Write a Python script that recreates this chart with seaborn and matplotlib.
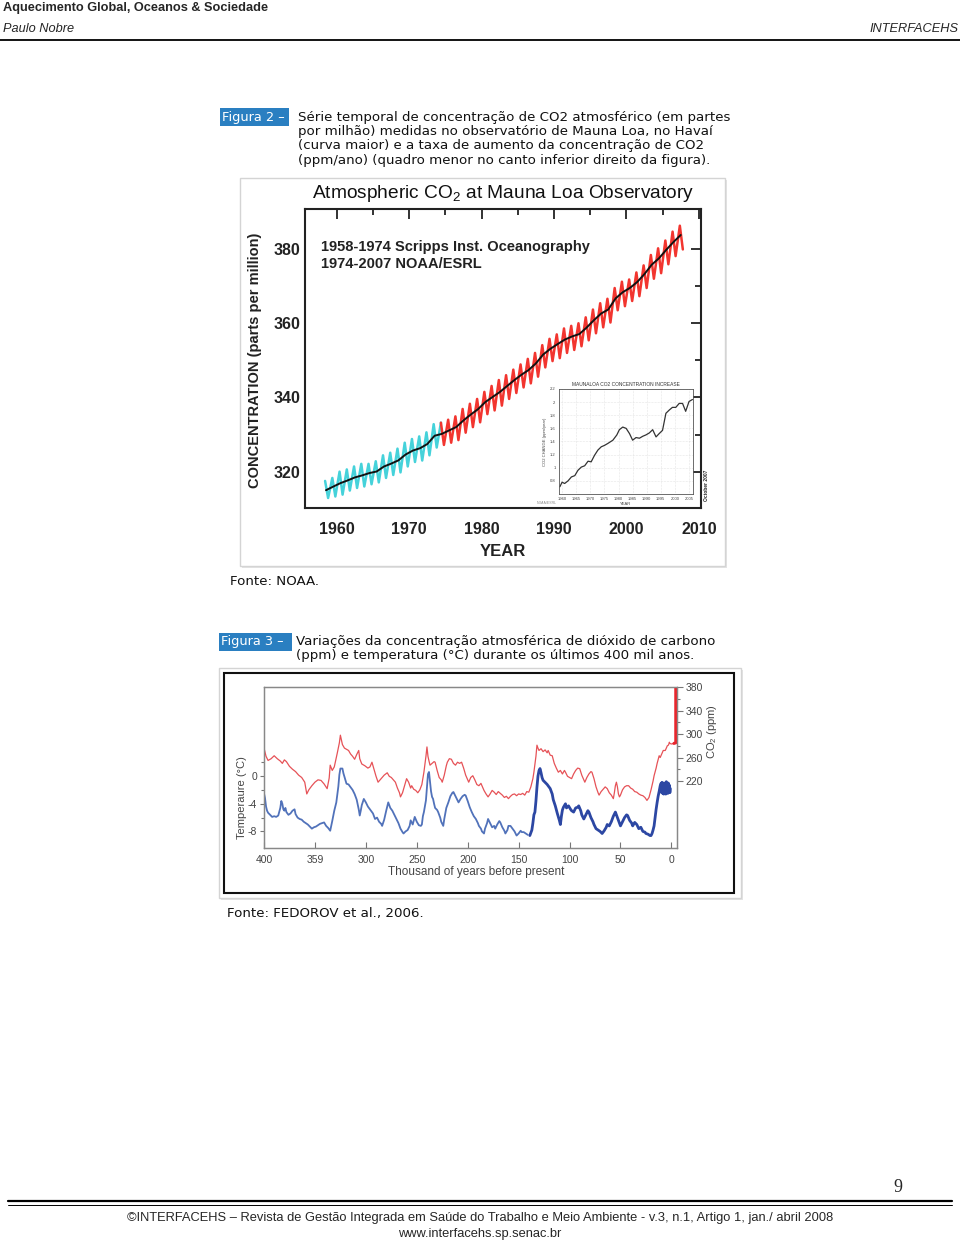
import numpy as np
import pandas as pd
import matplotlib
matplotlib.use('Agg')
import matplotlib.pyplot as plt
import seaborn as sns
from matplotlib.patches import Rectangle
from matplotlib.lines import Line2D

# ---------------- data: Figura 2 (Mauna Loa) ----------------
years = list(range(1958, 2008))
co2_peak = [317.5, 318.3, 320.0, 320.6, 321.4, 322.1, 322.1, 322.8, 324.4, 325.1,
            326.2, 327.8, 328.8, 329.5, 330.6, 332.8, 333.2, 334.0, 334.9, 336.9,
            338.3, 339.6, 341.5, 343.1, 344.7, 346.0, 347.5, 348.9, 350.4, 352.0,
            354.1, 355.8, 357.0, 358.6, 359.3, 360.0, 361.6, 363.7, 365.4, 366.6,
            369.5, 371.2, 371.8, 373.7, 375.6, 378.4, 380.2, 382.3, 384.7, 386.3]
co2_trough = [312.9, 313.3, 313.8, 314.9, 315.6, 316.0, 316.6, 317.1, 318.3, 319.1,
              319.8, 321.4, 322.6, 323.0, 324.4, 326.5, 327.2, 327.8, 328.5, 330.5,
              332.0, 333.3, 335.5, 336.5, 337.8, 339.6, 341.2, 342.7, 343.8, 345.6,
              348.1, 349.8, 350.6, 352.0, 352.8, 353.8, 355.4, 357.3, 358.9, 360.2,
              363.5, 364.6, 366.0, 367.3, 369.5, 372.0, 373.5, 375.9, 378.1, 379.9]
peak_month = 5
trough_month = 10
co2_annual = [315.0, 315.97, 316.91, 317.64, 318.45, 318.99, 319.62, 320.04, 321.38, 322.16,
              323.04, 324.62, 325.68, 326.32, 327.45, 329.68, 330.18, 331.11, 332.04, 333.83,
              335.40, 336.84, 338.75, 340.11, 341.45, 343.05, 344.65, 346.12, 347.42, 349.19,
              351.57, 353.12, 354.39, 355.61, 356.45, 357.10, 358.83, 360.82, 362.61, 363.73,
              366.70, 368.38, 369.55, 371.14, 373.28, 375.80, 377.52, 379.80, 381.90, 383.79]
scripps_end = 1974

# inset: growth rate
inset_year = [1959.2, 1960.0, 1960.9, 1962.1, 1963.3, 1964.5, 1965.6, 1966.8, 1968.0, 1969.2,
              1970.3, 1971.5, 1972.7, 1973.9, 1975.0, 1976.2, 1978.0, 1979.4, 1980.3, 1981.5,
              1982.7, 1983.9, 1985.0, 1986.2, 1987.4, 1988.6, 1989.7, 1990.9, 1992.1, 1993.3,
              1994.4, 1995.6, 1996.8, 1998.0, 1999.1, 2000.3, 2001.5, 2002.7, 2003.8, 2005.0,
              2006.2]
inset_rate = [0.71, 0.78, 0.76, 0.80, 0.86, 0.88, 0.96, 1.01, 1.03, 1.10,
              1.09, 1.19, 1.27, 1.32, 1.34, 1.37, 1.42, 1.50, 1.58, 1.62,
              1.60, 1.52, 1.42, 1.46, 1.45, 1.48, 1.50, 1.53, 1.58, 1.47,
              1.52, 1.57, 1.83, 1.88, 1.92, 1.92, 1.98, 1.98, 1.86, 2.01,
              2.04]

# ---------------- data: Figura 3 (400 kyr) ----------------
co2_kyr = [400, 398, 396, 393, 390, 387, 384, 382, 380, 378, 375, 372, 369, 366, 363, 360,
           358, 356, 353, 350, 347, 344, 341, 338, 336, 335, 333, 331, 328, 326, 325, 323,
           321, 319, 317, 315, 313, 311, 309, 307, 306, 304, 301, 298, 296, 294, 292, 290,
           288, 285, 282, 279, 277, 275, 273, 271, 269, 267, 266, 264, 262, 260, 258, 256,
           255, 253, 251, 249, 247, 245, 244, 243, 241, 240, 239, 238, 237, 235, 233, 232,
           230, 228, 226, 225, 223, 221, 220, 218, 216, 214, 212, 210, 208, 206, 204, 202,
           200, 199, 197, 195, 193, 191, 189, 187, 186, 184, 182, 180, 178, 176, 174, 172,
           170, 168, 166, 164, 162, 160, 158, 156, 154, 152, 150, 148, 146, 144, 142, 140,
           138, 136, 135, 133, 132, 131, 130, 128, 126, 124, 122, 121, 119, 117, 115, 113,
           111, 109, 107, 105, 104, 102, 100, 98, 96, 94, 92, 90, 88, 86, 85, 83,
           81, 79, 78, 76, 74, 72, 71, 69, 67, 65, 63, 61, 59, 57, 56, 55,
           54, 53, 52, 51, 50, 48, 46, 44, 42, 40, 38, 36, 34, 32, 30, 28,
           26, 24, 22, 20, 18, 17, 15, 14, 12, 11, 9, 8, 6, 5, 4, 3,
           2.5, 2, 1.5, 0, -2.5]
co2_ppm = [276, 262, 255, 258, 263, 258, 254, 250, 256, 253, 245, 240, 236, 230, 226, 218,
           198, 205, 212, 218, 222, 221, 215, 207, 225, 247, 238, 244, 268, 285, 298, 282,
           276, 274, 272, 266, 262, 257, 265, 272, 258, 249, 246, 242, 244, 252, 240, 228,
           218, 224, 230, 234, 228, 226, 222, 218, 208, 200, 193, 200, 212, 224, 218, 208,
           212, 206, 204, 200, 205, 214, 224, 235, 262, 278, 262, 254, 247, 250, 253, 252,
           238, 226, 222, 218, 230, 246, 252, 258, 257, 250, 247, 252, 250, 252, 242, 230,
           222, 218, 226, 229, 222, 214, 212, 216, 212, 204, 198, 193, 198, 204, 201, 197,
           202, 199, 196, 192, 194, 190, 194, 197, 198, 195, 198, 197, 199, 196, 202, 201,
           210, 224, 235, 262, 281, 276, 272, 275, 270, 273, 268, 272, 264, 263, 250, 242,
           235, 238, 232, 238, 235, 228, 226, 224, 232, 238, 242, 241, 230, 222, 218, 226,
           232, 236, 235, 224, 210, 200, 196, 202, 206, 210, 207, 200, 196, 190, 200, 212,
           218, 210, 198, 193, 196, 205, 210, 212, 212, 208, 206, 202, 201, 198, 196, 195,
           192, 187, 192, 205, 220, 229, 242, 250, 263, 260, 268, 272, 272, 276, 280, 281,
           283, 286, 284, 283, 284]
# industrial era (instrumental) jump at the right edge
co2_recent_kyr = [-2.5, -4.3, -4.3]
co2_recent_ppm = [284, 285, 380]

temp_kyr = [400, 399, 398, 397, 396, 394, 392, 390, 388, 386, 384, 383, 382, 381, 380, 379,
            378, 376, 374, 372, 370, 369, 367, 365, 363, 361, 359, 357, 355, 353, 351, 349,
            347, 345, 343, 341, 339, 337, 335, 333, 331, 329, 327, 326, 325, 323, 322, 320,
            319, 317, 315, 313, 311, 309, 307, 306, 305, 304, 302, 300, 298, 297, 295, 293,
            291, 289, 287, 285, 284, 282, 280, 278, 276, 274, 272, 270, 268, 266, 264, 263,
            261, 259, 257, 256, 254, 252, 250, 248, 246, 245, 244, 243, 241, 240, 239, 238,
            237, 236, 235, 234, 233, 232, 230, 229, 227, 226, 224, 223, 221, 219, 217, 215,
            214, 212, 210, 209, 207, 205, 203, 202, 200, 198, 196, 194, 192, 190, 189, 187,
            186, 184, 183, 181, 180, 178, 176, 174, 173, 171, 169, 168, 166, 164, 163, 161,
            160, 158, 156, 154, 152, 150, 148, 147, 145, 143, 141, 139, 137, 136, 135, 134,
            133, 132, 131, 130, 129, 128, 127, 126, 124, 122, 121, 119, 117, 116, 114, 112,
            110, 109, 108, 107, 106, 104, 103, 101, 99, 98, 96, 94, 92, 91, 89, 88,
            86, 84, 82, 81, 79, 77, 76, 74, 72, 70, 68, 66, 64, 63, 61, 59,
            57, 55, 54, 52, 50, 48, 46, 44, 43, 41, 39, 38, 36, 34, 32, 30,
            28, 26, 25, 23, 21, 20, 19, 18, 17, 16, 15, 14, 13, 12, 11, 10,
            9.5, 9, 8.5, 8, 7.5, 7, 6.5, 6, 5.5, 5, 4.5, 4, 3.5, 3, 2.5, 2, 1.5, 1]
temp_c = [-2.5, -3.2, -4.4, -5.0, -5.3, -5.6, -5.9, -5.8, -5.9, -5.7, -4.6, -3.6, -4.0, -4.8, -5.0, -4.6,
          -5.2, -5.6, -5.4, -5.0, -4.8, -5.5, -6.0, -6.2, -6.3, -6.6, -6.8, -7.0, -7.3, -7.6, -7.4, -7.3,
          -7.1, -6.9, -6.8, -6.7, -7.2, -7.5, -7.9, -6.5, -5.0, -3.8, -1.5, 0.2, 1.1, 1.1, 0.4, -0.6,
          -1.1, -1.2, -1.6, -2.0, -2.6, -3.4, -4.8, -5.7, -5.0, -4.2, -3.3, -3.8, -4.4, -4.6, -5.0, -5.4,
          -6.2, -6.0, -6.6, -6.9, -7.2, -6.3, -5.0, -3.8, -4.6, -5.0, -5.6, -6.2, -6.8, -7.6, -8.1, -8.3,
          -8.0, -7.8, -7.2, -6.4, -7.0, -5.9, -6.6, -7.1, -7.2, -7.0, -5.8, -5.2, -3.5, -1.5, 0.3, 0.6,
          -0.8, -2.2, -3.0, -3.3, -4.0, -4.6, -4.9, -5.2, -6.0, -6.6, -7.2, -6.2, -4.6, -3.8, -2.9, -2.4,
          -2.3, -2.9, -3.5, -3.8, -3.3, -2.9, -2.7, -2.8, -3.6, -4.5, -5.2, -5.8, -6.2, -6.8, -7.2, -7.6,
          -8.0, -8.3, -7.6, -6.8, -6.2, -6.8, -7.4, -7.2, -7.6, -7.0, -6.5, -6.7, -7.4, -7.9, -8.3, -7.8,
          -7.2, -7.2, -7.6, -8.0, -8.6, -8.3, -7.9, -8.1, -8.1, -8.3, -8.5, -8.6, -7.8, -6.8, -5.6, -5.2,
          -3.6, -1.6, 0.0, 0.8, 1.1, 0.5, -0.2, -0.6, -0.9, -1.2, -1.4, -1.8, -2.6, -3.4, -4.3, -5.4,
          -6.4, -7.0, -5.8, -4.9, -4.5, -4.0, -4.6, -4.3, -4.8, -5.0, -5.2, -4.6, -4.5, -4.3, -5.0, -5.6,
          -6.2, -5.6, -5.0, -5.2, -6.0, -6.6, -7.0, -7.6, -7.8, -8.0, -8.3, -7.9, -7.4, -7.0, -7.2, -6.6,
          -5.8, -5.2, -5.6, -6.4, -7.2, -6.6, -6.0, -5.6, -5.7, -6.4, -6.8, -7.2, -6.7, -7.0, -7.6, -7.4,
          -8.0, -8.1, -8.3, -8.4, -8.6, -8.6, -8.3, -7.8, -7.2, -6.0, -4.8, -3.8, -2.9, -2.2, -1.4, -1.0,
          -2.4, -0.9, -2.5, -1.1, -2.6, -1.0, -2.3, -1.2, -2.6, -0.8, -2.4, -1.1, -2.5, -1.0, -2.2, -1.3,
          -2.4, -1.8]

kyr_ticks = [400, 350, 300, 250, 200, 150, 100, 50, 0]
kyr_labels = ['400', '359', '300', '250', '200', '150', '100', '50', '0']
temp_ticks = [0, -4, -8]
co2_ticks = [220, 260, 300, 340, 380]

# ---------------- texts ----------------
caption2 = ['Série temporal de concentração de CO2 atmosférico (em partes',
            'por milhão) medidas no observatório de Mauna Loa, no Havaí',
            '(curva maior) e a taxa de aumento da concentração de CO2',
            '(ppm/ano) (quadro menor no canto inferior direito da figura).']
caption3 = ['Variações da concentração atmosférica de dióxido de carbono',
            '(ppm) e temperatura (°C) durante os últimos 400 mil anos.']

sns.set_theme(style='white')
plt.rcParams['font.family'] = ['Liberation Sans', 'DejaVu Sans']
plt.rcParams['mathtext.default'] = 'regular'
plt.rcParams['axes.unicode_minus'] = False

W, H = 960, 1242
fig = plt.figure(figsize=(9.6, 12.42), dpi=100)


def box(x0, y0, x1, y1):
    return [x0 / W, 1 - y1 / H, (x1 - x0) / W, (y1 - y0) / H]


def ftxt(x, y, s, **kw):
    kw.setdefault('va', 'center')
    return fig.text(x / W, 1 - y / H, s, **kw)


def hline(x0, x1, y, **kw):
    fig.add_artist(Line2D([x0 / W, x1 / W], [1 - y / H] * 2, transform=fig.transFigure, **kw))


def rect(x0, y0, x1, y1, z=-5, **kw):
    fig.add_artist(Rectangle((x0 / W, 1 - y1 / H), (x1 - x0) / W, (y1 - y0) / H,
                             transform=fig.transFigure, zorder=z, **kw))


# header
ftxt(3, 7.5, 'Aquecimento Global, Oceanos & Sociedade', fontsize=9.2, weight='bold')
ftxt(3, 29.5, 'Paulo Nobre', fontsize=9.2, style='italic')
ftxt(958, 29.5, 'INTERFACEHS', fontsize=9.2, style='italic', ha='right')
hline(0, 960, 40, color='black', lw=1.3)

# ---------------- Figura 2 ----------------
cap_font = ['DejaVu Sans']
rect(220, 108, 289, 126, facecolor='#2a7fc1', edgecolor='none')
ftxt(222, 117, 'Figura 2 –', fontsize=9.3, color='white', family=cap_font)
for i, line in enumerate(caption2):
    ftxt(298, 117 + i * 14.5, line, fontsize=9.6, family=cap_font, color='#111')

rect(242, 180, 727, 568, z=-6, facecolor='#e4e4e4', edgecolor='none')
rect(240, 178, 725, 566, facecolor='white', edgecolor='#d4d4d4', lw=1)

narrow = ['Liberation Sans', 'DejaVu Sans']
ftxt(503, 193, 'Atmospheric CO$_2$ at Mauna Loa Observatory', fontsize=13.8, ha='center',
     family=narrow, color='#111')

ax1 = fig.add_axes(box(305, 209, 701, 508))
# build seasonal zigzag table
rows = []
for y, pk, tr in zip(years, co2_peak, co2_trough):
    src = 'scripps' if y < scripps_end else 'noaa'
    rows.append((y + (peak_month - 0.5) / 12, pk, src))
    rows.append((y + (trough_month - 0.5) / 12, tr, src))
monthly = pd.DataFrame(rows, columns=['time', 'co2', 'src'])
scripps = monthly[monthly['time'] <= scripps_end + 0.5]
noaa = monthly[monthly['time'] >= scripps_end + 0.3]
sns.lineplot(data=scripps, x='time', y='co2', color='#45d2da', lw=1.8, sort=False,
             estimator=None, ax=ax1)
sns.lineplot(data=noaa, x='time', y='co2', color='#f2352f', lw=1.8, sort=False,
             estimator=None, ax=ax1)
trend = pd.DataFrame({'time': [y + 0.5 for y in years], 'co2': co2_annual})
sns.lineplot(data=trend, x='time', y='co2', color='#111111', lw=1.4, sort=False,
             estimator=None, ax=ax1)

ax1.set_xlim(1955.6, 2010.3)
ax1.set_ylim(310.2, 390.8)
ax1.set_xticks([1960, 1970, 1980, 1990, 2000, 2010])
ax1.set_xticks([1965, 1975, 1985, 1995, 2005], minor=True)
ax1.set_yticks([320, 340, 360, 380])
ax1.set_yticks([330, 350, 370], minor=True)
ax1.tick_params(which='both', direction='in', top=True, right=True, width=1.3, colors='#222',
                labelsize=11.5)
ax1.tick_params(axis='x', pad=10)
ax1.tick_params(axis='y', pad=3.5)
ax1.tick_params(which='major', length=7)
ax1.tick_params(which='minor', length=4)
for lab in ax1.get_xticklabels() + ax1.get_yticklabels():
    lab.set_family(narrow)
    lab.set_weight('bold')
ax1.set_xlabel('')
ax1.set_ylabel('')
for s in ax1.spines.values():
    s.set_color('#222')
    s.set_linewidth(1.5)
ax1.text(0.04, 0.845, '1958-1974 Scripps Inst. Oceanography\n1974-2007 NOAA/ESRL',
         transform=ax1.transAxes, fontsize=10.5, family=narrow, weight='bold', color='#222',
         va='center', linespacing=1.25)
ftxt(255, 360, 'CONCENTRATION (parts per million)', fontsize=10.5, rotation=90, ha='center',
     family=narrow, weight='bold', color='#222')
ftxt(503, 552, 'YEAR', fontsize=12, ha='center', family=narrow, weight='bold', color='#222')
ftxt(706, 485, 'October 2007', fontsize=3.5, rotation=90, ha='center', weight='bold')
ftxt(537, 503, 'NOAA/ESRL', fontsize=2.5, color='#888')

# inset
axi = fig.add_axes(box(559, 389, 693, 494))
sns.lineplot(x=inset_year, y=inset_rate, color='#333', lw=0.9, sort=False, estimator=None, ax=axi)
axi.set_xlim(1958.9, 2006.4)
axi.set_ylim(0.6, 2.2)
axi.set_xticks([1960, 1965, 1970, 1975, 1980, 1985, 1990, 1995, 2000, 2005])
axi.set_yticks([0.8, 1.0, 1.2, 1.4, 1.6, 1.8, 2.0, 2.2])
axi.set_yticklabels(['0.8', '1', '1.2', '1.4', '1.6', '1.8', '2', '2.2'])
axi.grid(True, color='#cfcfcf', lw=0.4, ls=':')
axi.tick_params(labelsize=3, length=1.5, width=0.4, pad=1, colors='#444')
for s in axi.spines.values():
    s.set_color('#555')
    s.set_linewidth(0.6)
axi.set_title('MAUNALOA CO2 CONCENTRATION INCREASE', fontsize=3.5, pad=2, color='#333')
axi.set_ylabel('CO2 CHANGE (ppm/year)', fontsize=3, labelpad=2, color='#444')
axi.set_xlabel('YEAR', fontsize=3, labelpad=0.5, color='#444')

ftxt(230, 581, 'Fonte: NOAA.', fontsize=9.6, family=cap_font, color='#111')

# ---------------- Figura 3 ----------------
rect(219, 633, 292, 651, facecolor='#2a7fc1', edgecolor='none')
ftxt(221, 642, 'Figura 3 –', fontsize=9.3, color='white', family=cap_font)
for i, line in enumerate(caption3):
    ftxt(296, 641 + i * 15, line, fontsize=9.6, family=cap_font, color='#111')

rect(221, 670, 743, 900, z=-6, facecolor='#e4e4e4', edgecolor='none')
rect(219, 668, 741, 898, facecolor='white', edgecolor='#d4d4d4', lw=1)
rect(224, 673, 734, 893, z=-4, facecolor='none', edgecolor='#111', lw=1.5)

ax2 = fig.add_axes(box(264, 687, 677, 848))
ax2.patch.set_alpha(0)
old = [k >= 140 for k in temp_kyr]
new = [k <= 140 for k in temp_kyr]
sns.lineplot(x=[k for k, o in zip(temp_kyr, old) if o], y=[t for t, o in zip(temp_c, old) if o],
             color='#5172ba', lw=1.3, sort=False, estimator=None, ax=ax2)
sns.lineplot(x=[k for k, n in zip(temp_kyr, new) if n], y=[t for t, n in zip(temp_c, new) if n],
             color='#2c47a3', lw=2.0, sort=False, estimator=None, ax=ax2)
ax2.set_xlim(400, -5.5)
ax2.set_ylim(-10.4, 12.9)
ax2.set_xticks(kyr_ticks)
ax2.set_xticklabels(kyr_labels)
ax2.set_yticks(temp_ticks)
ax2.set_yticks([2, -2, -6], minor=True)
ax2.set_xlabel('')
ax2.set_ylabel('')
ax2.tick_params(axis='both', which='both', length=3, width=0.8, colors='#777',
                labelcolor='#444', labelsize=7.5, pad=2, bottom=True, left=True)
ax2.tick_params(axis='x', direction='in', length=4, pad=5)
ax2.tick_params(axis='y', which='both', direction='out')
ax2.tick_params(axis='y', which='minor', length=2)
ftxt(476, 872, 'Thousand of years before present', fontsize=8.5, color='#444', ha='center')
ftxt(242, 798, 'Temperaure (°C)', fontsize=8, color='#444', ha='center', rotation=90)

ax2r = ax2.twinx()
sns.lineplot(x=co2_kyr, y=co2_ppm, color='#e65257', lw=0.9, sort=False, estimator=None, ax=ax2r)
sns.lineplot(x=co2_recent_kyr, y=co2_recent_ppm, color='#e8262d', lw=2.2, sort=False,
             estimator=None, ax=ax2r)
ax2r.set_ylim(106, 380)
ax2r.set_yticks(co2_ticks)
ax2r.set_yticks([240, 280, 320, 360], minor=True)
ax2r.set_ylabel('')
ax2r.tick_params(axis='y', which='both', direction='out', width=0.8, colors='#777',
                 labelcolor='#444', labelsize=7.5, pad=2, right=True)
ax2r.tick_params(axis='y', which='major', length=4)
ax2r.tick_params(axis='y', which='minor', length=2.5)
ftxt(712, 732, 'CO$_2$ (ppm)', fontsize=8, color='#444', ha='center', rotation=90)
ax2r.grid(False)
ax2.grid(False)
for a in (ax2, ax2r):
    for s in a.spines.values():
        s.set_color('#888')
        s.set_linewidth(0.9)

ftxt(227, 913, 'Fonte: FEDOROV et al., 2006.', fontsize=9.6, family=cap_font, color='#111')

# footer
ftxt(898, 1187, '9', fontsize=13, family=['Liberation Serif'], ha='center')
hline(8, 952, 1201, color='black', lw=1.6)
hline(8, 952, 1205, color='black', lw=0.7)
ftxt(480, 1218, '©INTERFACEHS – Revista de Gestão Integrada em Saúde do Trabalho e Meio Ambiente - v.3, n.1, '
     'Artigo 1, jan./ abril 2008', fontsize=9.3, ha='center')
ftxt(480, 1234, 'www.interfacehs.sp.senac.br', fontsize=9.3, ha='center')

fig.savefig('out.png', dpi=100)
